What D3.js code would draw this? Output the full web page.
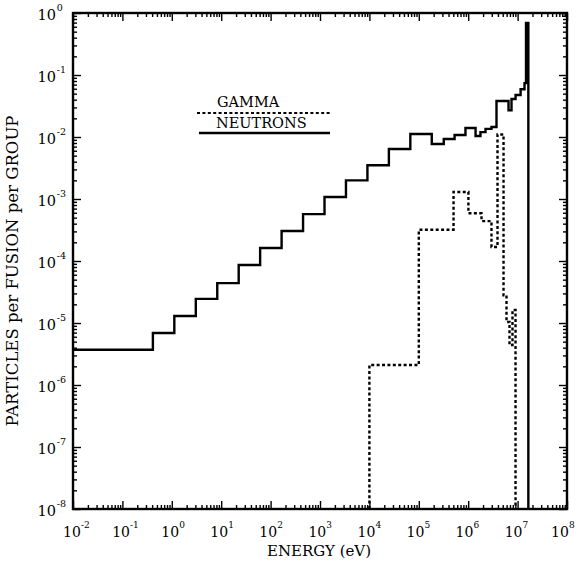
<!DOCTYPE html>
<html>
<head>
<meta charset="utf-8">
<script src="https://cdn.jsdelivr.net/npm/d3@7"></script>
<style>
  html, body { margin: 0; padding: 0; background: #fff; }
  svg { display: block; }
  text { font-family: "DejaVu Serif", "Liberation Serif", serif; fill: #000; }
</style>
</head>
<body>
<svg id="chart" width="580" height="563"></svg>
<script>
// ---- data ----
// neutron group boundaries (eV) and particles per fusion per group
const neutronEdges = [0.01, 0.414, 1.125, 3.06, 8.32, 22.6, 61.4, 167, 454, 1234, 3354, 9119, 24788, 67379,
  1.83e5, 3.2e5, 5.3e5, 8.8e5, 1.41e6, 1.77e6, 2.24e6, 2.96e6, 3.74e6, 6.55e6, 7.53e6, 9.1e6, 1.15e7, 1.38e7, 1.48e7, 1.65e7];
const neutronValues = [3.7e-6, 6.9e-6, 1.3e-5, 2.45e-5, 4.4e-5, 8.6e-5, 1.62e-4, 3.05e-4, 5.7e-4, 1.08e-3, 2.0e-3,
  3.5e-3, 6.4e-3, 1.12e-2, 7.7e-3, 9.3e-3, 1.08e-2, 1.4e-2, 1.04e-2, 1.2e-2, 1.35e-2, 1.45e-2, 3.8e-2, 2.7e-2,
  4.1e-2, 4.75e-2, 5.9e-2, 7.4e-2, 0.69];
// gamma group boundaries (eV) and values
const gammaEdges = [1e4, 1e5, 5.05e5, 1.01e6, 1.86e6, 2.96e6, 3.92e6, 5.19e6, 5.96e6, 6.86e6, 7.88e6, 9.08e6];
const gammaValues = [2.1e-6, 3.2e-4, 1.3e-3, 5.9e-4, 4.4e-4, 1.68e-4, 1.1e-2, 2.8e-5, 1.04e-5, 4.4e-6, 1.62e-5];

const xDecades = [-2, -1, 0, 1, 2, 3, 4, 5, 6, 7, 8];
const yDecades = [0, -1, -2, -3, -4, -5, -6, -7, -8];
const legendLabels = ["GAMMA", "NEUTRONS"];
const xTitle = "ENERGY (eV)";
const yTitle = "PARTICLES per FUSION per GROUP";

// ---- scales ----
const svg = d3.select("#chart");
const x = d3.scaleLog().domain([1e-2, 1e8]).range([73, 567]);
const y = d3.scaleLog().domain([1e-8, 1]).range([509, 13]);

function minorVals(decs) {
  const out = [];
  const lo = Math.min(...decs), hi = Math.max(...decs);
  for (let d = lo; d < hi; d++) for (let k = 2; k <= 9; k++) out.push(k * Math.pow(10, d));
  return out;
}
const xMajor = xDecades.map(d => Math.pow(10, d));
const yMajor = yDecades.map(d => Math.pow(10, d));
const xMinor = minorVals(xDecades);
const yMinor = minorVals(yDecades);

const axW = 1.4;
function styleAxis(g) {
  g.select(".domain").remove();
  g.selectAll(".tick line").attr("stroke", "#000").attr("stroke-width", axW);
  g.selectAll(".tick text").remove();
}
// bottom (ticks inward)
svg.append("g").attr("transform", `translate(0,${y.range()[0]})`)
  .call(d3.axisBottom(x).tickValues(xMajor).tickSize(-8).tickFormat("")).call(styleAxis);
svg.append("g").attr("transform", `translate(0,${y.range()[0]})`)
  .call(d3.axisBottom(x).tickValues(xMinor).tickSize(-4).tickFormat("")).call(styleAxis);
// top
svg.append("g").attr("transform", `translate(0,${y.range()[1]})`)
  .call(d3.axisTop(x).tickValues(xMajor).tickSize(-8).tickFormat("")).call(styleAxis);
svg.append("g").attr("transform", `translate(0,${y.range()[1]})`)
  .call(d3.axisTop(x).tickValues(xMinor).tickSize(-4).tickFormat("")).call(styleAxis);
// left
svg.append("g").attr("transform", `translate(${x.range()[0]},0)`)
  .call(d3.axisLeft(y).tickValues(yMajor).tickSize(-8).tickFormat("")).call(styleAxis);
svg.append("g").attr("transform", `translate(${x.range()[0]},0)`)
  .call(d3.axisLeft(y).tickValues(yMinor).tickSize(-4).tickFormat("")).call(styleAxis);
// right
svg.append("g").attr("transform", `translate(${x.range()[1]},0)`)
  .call(d3.axisRight(y).tickValues(yMajor).tickSize(-8).tickFormat("")).call(styleAxis);
svg.append("g").attr("transform", `translate(${x.range()[1]},0)`)
  .call(d3.axisRight(y).tickValues(yMinor).tickSize(-4).tickFormat("")).call(styleAxis);

// frame
svg.append("rect")
  .attr("x", x.range()[0]).attr("y", y.range()[1])
  .attr("width", x.range()[1] - x.range()[0]).attr("height", y.range()[0] - y.range()[1])
  .attr("fill", "none").attr("stroke", "#000").attr("stroke-width", 2.4);

// tick labels
const lab = svg.append("g");
xDecades.forEach((d, i) => {
  // shift labels slightly left toward the right end, as in the reference
  const px = x(Math.pow(10, d)) - 1 - (i === xDecades.length - 1 ? 6 : i / 3);
  lab.append("text").attr("x", px).attr("y", 537).attr("text-anchor", "middle")
    .attr("font-size", 14).text("10");
  lab.append("text").attr("x", px + 9).attr("y", 527.5).attr("text-anchor", "start")
    .attr("font-size", 9).text(String(d));
});
yDecades.forEach(d => {
  const py = y(Math.pow(10, d));
  lab.append("text").attr("x", 56).attr("y", py + 7).attr("text-anchor", "end")
    .attr("font-size", 14.5).text("10");
  lab.append("text").attr("x", 56.8).attr("y", py - 2.5).attr("text-anchor", "start")
    .attr("font-size", 9.5).text(String(d));
});

// axis titles
svg.append("text").attr("x", 319).attr("y", 556).attr("text-anchor", "middle")
  .attr("font-size", 15).text(xTitle);
svg.append("text").attr("transform", "translate(18,271) rotate(-90)").attr("text-anchor", "middle")
  .attr("font-size", 16.5).text(yTitle);

// ---- step series ----
function stepPoints(edges, vals) {
  const pts = [];
  vals.forEach((v, i) => pts.push([edges[i], v]));
  pts.push([edges[edges.length - 1], vals[vals.length - 1]]);
  return pts;
}
const floorV = y.domain()[0];
const line = d3.line().x(d => x(d[0])).y(d => y(d[1])).curve(d3.curveStepAfter);

svg.append("defs").append("clipPath").attr("id", "clip").append("rect")
  .attr("x", x.range()[0]).attr("y", y.range()[1])
  .attr("width", x.range()[1] - x.range()[0]).attr("height", y.range()[0] - y.range()[1]);

const plot = svg.append("g").attr("clip-path", "url(#clip)");

const nPts = stepPoints(neutronEdges, neutronValues);
nPts.push([neutronEdges[neutronEdges.length - 1], floorV]);
plot.append("path").attr("d", line(nPts)).attr("fill", "none")
  .attr("stroke", "#000").attr("stroke-width", 2.4).attr("stroke-linejoin", "miter");

const gPts = [[gammaEdges[0], floorV]].concat(stepPoints(gammaEdges, gammaValues));
gPts.push([gammaEdges[gammaEdges.length - 1], floorV]);
plot.append("path").attr("d", line(gPts)).attr("fill", "none")
  .attr("stroke", "#000").attr("stroke-width", 2.4).attr("stroke-dasharray", "3,2.4");

// ---- legend ----
const leg = svg.append("g");
leg.append("text").attr("x", 217).attr("y", 107).attr("font-size", 14.5).text(legendLabels[0]);
leg.append("line").attr("x1", 197).attr("x2", 330).attr("y1", 113).attr("y2", 113)
  .attr("stroke", "#000").attr("stroke-width", 2).attr("stroke-dasharray", "3,2.4");
leg.append("text").attr("x", 216).attr("y", 128).attr("font-size", 14.5).text(legendLabels[1]);
leg.append("line").attr("x1", 199).attr("x2", 330).attr("y1", 133).attr("y2", 133)
  .attr("stroke", "#000").attr("stroke-width", 2.4);
</script>
</body>
</html>
